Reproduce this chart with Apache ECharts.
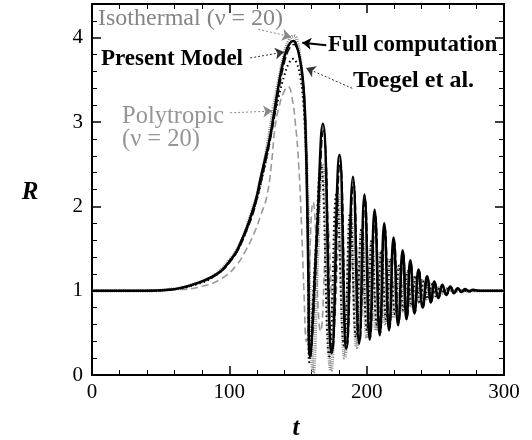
<!DOCTYPE html>
<html><head><meta charset="utf-8">
<script src="https://cdn.jsdelivr.net/npm/echarts@6/dist/echarts.min.js"></script>
<style>html,body{margin:0;padding:0;background:#fff}#c{width:532px;height:440px}</style>
</head><body><div id="c"></div>
<script>
// ---- data ----
const fullT=[0,40,55,64,75,88,95,100.6,105,109,113,116.4,120,122.4,126,129.7,133,136,139,142,144.5,146.7,149,151,153,154.5,155.6,156.5,157.5,158.6,163.5,168.1,174.5,180.2,185.2,190,194.5,198.4,202.2,205.8,209.5,212.8,216.3,219.6,222.9,226.2,229,231.8,234.8,237.8,240.8,244,246.8,249.3,252.2,255.1,258,260.9,263.6,266.3,269,271.7,274.5,277.5,281,290,300];
const fullR=[1,1,1.01,1.03,1.08,1.17,1.25,1.36,1.46,1.6,1.76,1.92,2.12,2.31,2.56,2.83,3.15,3.45,3.7,3.87,3.94,3.96,3.9,3.78,3.58,3.3,2.85,2.2,1.2,0.22,1.6,2.98,0.26,2.61,0.31,2.35,0.37,2.14,0.42,1.96,0.47,1.8,0.53,1.63,0.59,1.48,0.66,1.36,0.73,1.25,0.8,1.17,0.86,1.11,0.91,1.07,0.95,1.05,0.97,1.03,0.985,1.02,0.99,1.01,1,1,1];

const presT=[0,40,55,64,75,88,95,101,105,109,113,117,120,123,126.5,130,133.5,136.5,139.5,142.5,145,147.2,149.5,151.5,153.3,154.8,155.9,156.8,157.8,158.9,164,168.6,175,180.8,185.7,190.5,195,198.9,202.7,206.3,210,213.3,216.8,220.1,223.4,226.7,229.5,232.3,235.3,238.3,241.3,244.5,247.3,249.8,252.7,255.6,258.5,261.4,264.1,266.8,269.5,272.2,275,278,281.5,290,300];
const presR=[1,1,1.01,1.03,1.08,1.16,1.24,1.35,1.44,1.57,1.73,1.9,2.08,2.28,2.53,2.8,3.12,3.42,3.66,3.83,3.9,3.92,3.86,3.74,3.54,3.25,2.8,2.15,1.15,0.2,1.55,2.9,0.28,2.54,0.33,2.29,0.39,2.09,0.44,1.91,0.5,1.75,0.56,1.59,0.62,1.45,0.68,1.33,0.75,1.23,0.82,1.15,0.87,1.1,0.92,1.06,0.955,1.04,0.975,1.025,0.985,1.015,0.99,1.008,1,1,1];

const toegT=[0,40,60,75,88,100,109,116,120,124,128,132,136,140,143.5,146.5,149,151.5,153.5,155,156.2,157.2,158.2,162.5,166.5,172.8,178,183.5,188,192.2,196.3,200.2,203.8,207.4,210.8,214.2,217.4,220.6,223.7,226.8,229.8,232.8,235.8,238.8,241.8,244.8,247.8,250.8,253.8,257,260,265,270,280,300];
const toegR=[1,1,1.02,1.07,1.16,1.34,1.58,1.88,2.08,2.35,2.65,3.0,3.3,3.55,3.7,3.75,3.7,3.55,3.3,2.95,2.4,1.6,0.15,1.4,2.5,0.22,2.15,0.35,1.92,0.45,1.74,0.53,1.6,0.6,1.48,0.66,1.38,0.72,1.3,0.77,1.23,0.82,1.17,0.86,1.12,0.9,1.08,0.93,1.05,0.96,1.03,1.01,1,1,1];

const isoT=[0,40,60,75,88,100,109,116,120,124,128,132,136,140,143.5,147,149.5,151.5,153.5,155,156.5,157.8,159,161,164,167.5,174,179,184,188.5,192.7,196.5,200.2,203.5,206.9,210,213.2,216.3,219.4,222.5,225.5,228.5,231.4,234.3,237.2,240,242.9,245.7,248.5,251.3,254,258,265,300];
const isoR=[1,1,1.02,1.08,1.17,1.36,1.6,1.92,2.12,2.4,2.75,3.15,3.5,3.8,3.97,4.02,3.95,3.75,3.45,3.05,2.4,1.6,0.7,0.03,1.3,2.5,0.05,2.15,0.2,1.9,0.33,1.72,0.44,1.58,0.53,1.47,0.61,1.38,0.68,1.3,0.75,1.23,0.81,1.17,0.86,1.12,0.9,1.08,0.94,1.05,0.96,1.02,1,1];

const polyT=[0,40,60,80,95,105,112,118,123,127.3,130.5,133.4,136.5,139.5,142.9,145.5,148,150.5,152.5,154.3,156,161,166.5,171.5,176,180.3,184.3,188.2,192,195.8,199.5,203.2,206.9,210.5,214.2,218,222,226,232,240,260,300];
const polyR=[1,1,1.01,1.05,1.15,1.3,1.48,1.68,1.9,2.12,2.48,2.95,3.2,3.35,3.42,3.3,3.0,2.5,1.8,1.0,0.4,2.05,0.52,1.78,0.62,1.58,0.7,1.44,0.77,1.33,0.83,1.24,0.87,1.17,0.91,1.11,0.94,1.06,0.98,1.01,1,1];

const xTickLabels=[0,100,200,300];
const yTickLabels=[0,1,2,3,4];

// annotation arrows: [startT, startR, tipT, tipR]
const isoArrow=[121.0,4.10,145.0,4.01];
const presArrow=[115.2,3.76,139.9,3.83];
const fullArrow=[170.6,3.91,153.1,3.94];
const toegArrow=[189.5,3.40,156.0,3.64];
const polyArrow=[100.6,3.11,131.2,3.13];

// ---- chart ----
function zip(a,b){return a.map((t,i)=>[t,b[i]]);}
function arrow(a,color,type,width){
  return {silent:true,symbol:['none','arrow'],symbolSize:9,animation:false,
    label:{show:false},emphasis:{disabled:true},
    lineStyle:{color:color,type:type,width:width},
    data:[[{coord:[a[0],a[1]]},{coord:[a[2],a[3]]}]]};
}
const serif='Liberation Serif';
const chart=echarts.init(document.getElementById('c'),null,{renderer:'canvas'});
const axCommon={axisLine:{show:true,onZero:false,lineStyle:{color:'#000',width:2}},
  axisTick:{show:true,inside:true,length:9,lineStyle:{color:'#000',width:1.5}},
  minorTick:{show:true,splitNumber:5,length:5,lineStyle:{color:'#000',width:1}},
  splitLine:{show:false}};
const labelFmt=v=>(xTickLabels.indexOf(v)>=0?String(v):'');
const ylabelFmt=v=>(yTickLabels.indexOf(v)>=0?String(v):'');
chart.setOption({
  animation:false,
  backgroundColor:'#fff',
  grid:{left:92,right:28,top:4,bottom:65,containLabel:false},
  xAxis:[
    Object.assign({type:'value',min:0,max:300,interval:100,position:'bottom',
      axisLabel:{color:'#000',fontFamily:serif,fontSize:21,margin:7,formatter:labelFmt}},axCommon),
    Object.assign({type:'value',min:0,max:300,interval:100,position:'top',
      axisLabel:{show:false}},axCommon)
  ],
  yAxis:[
    Object.assign({type:'value',min:0,max:4.4,interval:1,position:'left',
      axisLabel:{color:'#000',fontFamily:serif,fontSize:21,margin:9,formatter:ylabelFmt}},axCommon),
    Object.assign({type:'value',min:0,max:4.4,interval:1,position:'right',
      axisLabel:{show:false}},axCommon)
  ],
  series:[
    {name:'Polytropic (ν = 20)',type:'line',data:zip(polyT,polyR),smooth:0.5,showSymbol:false,
      lineStyle:{color:'#999',width:1.6,type:[7,4]},z:2,markLine:arrow(polyArrow,'#888',[2,2],1)},
    {name:'Isothermal (ν = 20)',type:'line',data:zip(isoT,isoR),smooth:0.5,showSymbol:false,
      lineStyle:{color:'#8c8c8c',width:3.4,type:[1,1.2]},z:3,markLine:arrow(isoArrow,'#888',[2,2],1)},
    {name:'Toegel et al.',type:'line',data:zip(toegT,toegR),smooth:0.5,showSymbol:false,
      lineStyle:{color:'#000',width:2,type:[1.5,3]},z:4,markLine:arrow(toegArrow,'#333',[2,2],1)},
    {name:'Present Model',type:'line',data:zip(presT,presR),smooth:0.5,showSymbol:false,
      lineStyle:{color:'#111',width:1.5,type:[8,3]},z:5,markLine:arrow(presArrow,'#333',[2,2],1)},
    {name:'Full computation',type:'line',data:zip(fullT,fullR),smooth:0.5,showSymbol:false,
      lineStyle:{color:'#000',width:2.5},z:6,markLine:arrow(fullArrow,'#000','solid',2)}
  ],
  graphic:[
    {type:'text',x:98,y:19,style:{text:'Isothermal (ν = 20)',font:'24px "Liberation Serif"',fill:'#858585',verticalAlign:'middle',align:'left'}},
    {type:'text',x:101,y:59,style:{text:'Present Model',font:'bold 23px "Liberation Serif"',fill:'#000',verticalAlign:'middle',align:'left'}},
    {type:'text',x:328,y:45,style:{text:'Full computation',font:'bold 23px "Liberation Serif"',fill:'#000',verticalAlign:'middle',align:'left'}},
    {type:'text',x:353,y:81,style:{text:'Toegel et al.',font:'bold 24px "Liberation Serif"',fill:'#000',verticalAlign:'middle',align:'left'}},
    {type:'text',x:122,y:117,style:{text:'Polytropic',font:'24.5px "Liberation Serif"',fill:'#959595',verticalAlign:'middle',align:'left'}},
    {type:'text',x:122,y:140,style:{text:'(ν = 20)',font:'24.5px "Liberation Serif"',fill:'#959595',verticalAlign:'middle',align:'left'}},
    {type:'text',x:296,y:429,style:{text:'t',font:'italic bold 25px "Liberation Serif"',fill:'#000',verticalAlign:'middle',align:'center'}},
    {type:'text',x:30,y:193,style:{text:'R',font:'italic bold 25px "Liberation Serif"',fill:'#000',verticalAlign:'middle',align:'center'}}
  ]
});
</script>
</body></html>
